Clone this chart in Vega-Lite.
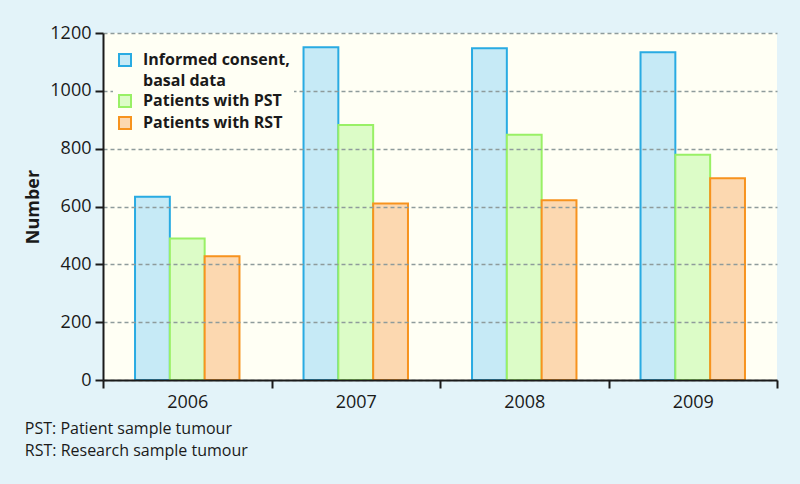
{
  "$schema": "https://vega.github.io/schema/vega-lite/v6.json",
  "width": 674,
  "height": 347,
  "autosize": {"type": "none"},
  "padding": {"left": 103, "top": 33, "right": 23, "bottom": 104},
  "background": "#e3f3f9",
  "config": {
    "font": "Open Sans",
    "view": {"fill": "#fffff4", "stroke": null},
    "style": {"guide-label": {"lineHeight": 21}}
  },
  "title": {
    "text": ["PST: Patient sample tumour", "RST: Research sample tumour"],
    "orient": "bottom",
    "anchor": "start",
    "frame": "bounds",
    "fontSize": 16,
    "fontWeight": "normal",
    "lineHeight": 22,
    "color": "#1a1a1a",
    "offset": 10
  },
  "data": {
    "values": [
      {"year": "2006", "series": "Informed consent, basal data", "value": 634},
      {"year": "2006", "series": "Patients with PST", "value": 489},
      {"year": "2006", "series": "Patients with RST", "value": 428},
      {"year": "2007", "series": "Informed consent, basal data", "value": 1151},
      {"year": "2007", "series": "Patients with PST", "value": 882},
      {"year": "2007", "series": "Patients with RST", "value": 610},
      {"year": "2008", "series": "Informed consent, basal data", "value": 1147},
      {"year": "2008", "series": "Patients with PST", "value": 848},
      {"year": "2008", "series": "Patients with RST", "value": 622},
      {"year": "2009", "series": "Informed consent, basal data", "value": 1133},
      {"year": "2009", "series": "Patients with PST", "value": 779},
      {"year": "2009", "series": "Patients with RST", "value": 698}
    ]
  },
  "mark": {"type": "bar", "strokeWidth": 2},
  "encoding": {
    "x": {
      "field": "year",
      "type": "nominal",
      "scale": {"paddingInner": 0, "paddingOuter": 0},
      "axis": {
        "title": null,
        "labelAngle": 0,
        "labelFontSize": 18,
        "labelColor": "#1a1a1a",
        "labelPadding": 5,
        "tickBand": "extent",
        "tickSize": 8,
        "tickWidth": 2,
        "tickColor": "#1a1a1a",
        "domainWidth": 2,
        "domainColor": "#1a1a1a",
        "grid": false,
        "zindex": 1
      }
    },
    "xOffset": {
      "field": "series",
      "type": "nominal",
      "scale": {
        "domain": ["Informed consent, basal data", "Patients with PST", "Patients with RST"],
        "paddingInner": 0,
        "paddingOuter": 0.92
      }
    },
    "y": {
      "field": "value",
      "type": "quantitative",
      "scale": {"domain": [0, 1200], "nice": false},
      "axis": {
        "title": "Number",
        "titleFontSize": 18,
        "titleFontWeight": "bold",
        "titleColor": "#1a1a1a",
        "titlePadding": 7,
        "values": [0, 200, 400, 600, 800, 1000, 1200],
        "format": "d",
        "labelFontSize": 18,
        "labelColor": "#1a1a1a",
        "labelPadding": 4,
        "tickSize": 8,
        "tickWidth": 2,
        "tickColor": "#1a1a1a",
        "domainWidth": 2,
        "domainColor": "#1a1a1a",
        "grid": true,
        "gridColor": "#8e9b9b",
        "gridDash": [4, 3],
        "gridWidth": 1.5,
        "zindex": 1
      }
    },
    "fill": {
      "field": "series",
      "type": "nominal",
      "scale": {
        "domain": ["Informed consent, basal data", "Patients with PST", "Patients with RST"],
        "range": ["#c6eaf6", "#dcfcc7", "#fcd8b0"]
      },
      "legend": {
        "title": null,
        "orient": "none",
        "legendX": 10,
        "legendY": 15,
        "padding": 4,
        "fillColor": "#fffff4",
        "zindex": 2,
        "rowPadding": 2,
        "symbolType": "square",
        "symbolSize": 144,
        "symbolStrokeWidth": 2,
        "labelFontSize": 16,
        "labelFontWeight": "bold",
        "labelColor": "#1a1a1a",
        "labelOffset": 10,
        "labelLimit": 300,
        "labelExpr": "datum.label == 'Informed consent, basal data' ? ['Informed consent,', 'basal data'] : datum.label"
      }
    },
    "stroke": {
      "field": "series",
      "type": "nominal",
      "scale": {
        "domain": ["Informed consent, basal data", "Patients with PST", "Patients with RST"],
        "range": ["#29abe2", "#99f066", "#f7931e"]
      },
      "legend": {
        "title": null,
        "orient": "none",
        "legendX": 10,
        "legendY": 15,
        "padding": 4,
        "fillColor": "#fffff4",
        "zindex": 2,
        "rowPadding": 2,
        "symbolType": "square",
        "symbolSize": 144,
        "symbolStrokeWidth": 2,
        "labelFontSize": 16,
        "labelFontWeight": "bold",
        "labelColor": "#1a1a1a",
        "labelOffset": 10,
        "labelLimit": 300,
        "labelExpr": "datum.label == 'Informed consent, basal data' ? ['Informed consent,', 'basal data'] : datum.label"
      }
    }
  }
}
